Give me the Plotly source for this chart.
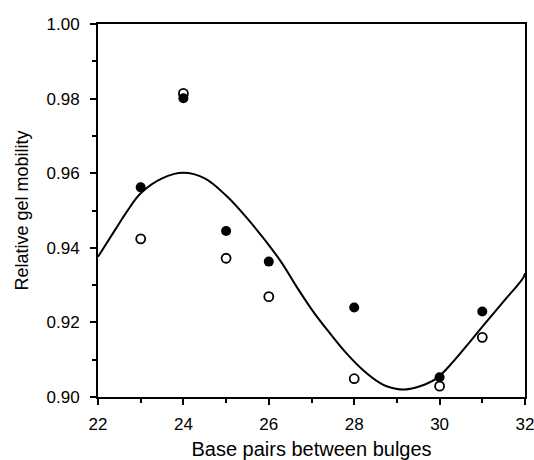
import plotly.graph_objects as go

# Data
bp = [23, 24, 25, 26, 28, 30, 31]
mobility_filled = [0.9562, 0.9801, 0.9445, 0.9363, 0.9240, 0.9053, 0.9229]
mobility_open = [0.9424, 0.9814, 0.9372, 0.9269, 0.9049, 0.9029, 0.9160]

fit_x = [22.0, 22.4, 22.7, 23.0, 23.5, 24.0, 24.5, 25.0, 25.5, 26.26, 26.65,
         27.04, 27.43, 27.82, 28.21, 28.6, 28.76, 29.15, 29.54, 29.93, 30.32,
         30.71, 31.1, 31.49, 31.96, 32.0]
fit_y = [0.9376, 0.9448, 0.9501, 0.9546, 0.9586, 0.9601, 0.9586, 0.9540,
         0.9478, 0.9367, 0.9296, 0.9229, 0.9171, 0.9117, 0.9072, 0.9038,
         0.9029, 0.9020, 0.9029, 0.9050, 0.9095, 0.9148, 0.9202, 0.9255,
         0.9320, 0.9332]

x_ticks = [22, 24, 26, 28, 30, 32]
y_ticks = [0.90, 0.92, 0.94, 0.96, 0.98, 1.00]

font_family = "Liberation Sans, Arial, Helvetica, sans-serif"

fig = go.Figure()
fig.add_trace(go.Scatter(
    x=fit_x, y=fit_y, mode="lines",
    line=dict(color="black", width=2, shape="spline", smoothing=1.0),
    hoverinfo="skip", showlegend=False,
))
fig.add_trace(go.Scatter(
    x=bp, y=mobility_open, mode="markers",
    marker=dict(symbol="circle-open", size=9, color="black", line=dict(width=1.8)),
    showlegend=False,
))
fig.add_trace(go.Scatter(
    x=bp, y=mobility_filled, mode="markers",
    marker=dict(symbol="circle", size=10, color="black"),
    showlegend=False,
))

axis_common = dict(
    showline=True, linecolor="black", linewidth=2, mirror=True,
    showgrid=False, zeroline=False, automargin=False,
    ticks="outside", ticklen=6, tickwidth=1.5, tickcolor="black",
    tickfont=dict(family=font_family, size=17, color="black"),
    ticklabeloverflow="allow",
)

fig.update_layout(
    width=534, height=460,
    margin=dict(l=98, r=9, t=24, b=63, autoexpand=False),
    paper_bgcolor="white", plot_bgcolor="white",
    font=dict(family=font_family, color="black"),
    xaxis=dict(
        range=[22, 32], tickvals=x_ticks,
        minor=dict(dtick=1, ticks="outside", ticklen=4, tickcolor="black", tickwidth=1.5),
        title=dict(text="Base pairs between bulges", font=dict(size=20, family=font_family), standoff=9),
        ticklabelstandoff=5,
        **axis_common,
    ),
    yaxis=dict(
        range=[0.90, 1.00], tickvals=y_ticks, tickformat=".2f",
        minor=dict(dtick=0.01, ticks="outside", ticklen=4, tickcolor="black", tickwidth=1.5),
        title=dict(text="Relative gel mobility", font=dict(size=18, family=font_family), standoff=13),
        ticklabelstandoff=7,
        **axis_common,
    ),
)

# Remove the default 8px page margin so the figure fills the 534x460 window.
fig.write_html("out.html", config={"displayModeBar": False},
               post_script="document.body.style.margin='0';")
